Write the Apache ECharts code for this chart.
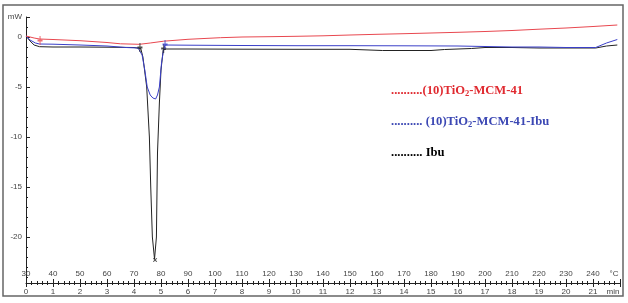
<!DOCTYPE html>
<html><head><meta charset="utf-8">
<script src="https://cdn.jsdelivr.net/npm/echarts@6/dist/echarts.min.js"></script>
<style>html,body{margin:0;padding:0;background:#fff}#c{width:628px;height:303px}</style>
</head><body><div id="c"></div>
<script>
// time (min) vs heat flow (mW)
var redData = [[0,0.1],[0.3,-0.1],[0.5,-0.2],[1,-0.25],[2,-0.37],[3,-0.55],[3.5,-0.68],[4.2,-0.73],[4.6,-0.6],[5.1,-0.42],[6,-0.23],[7.2,-0.07],[8,0.0],[9,0.03],[10,0.07],[11,0.12],[12,0.2],[13,0.27],[14,0.33],[15,0.4],[16,0.47],[17,0.55],[18,0.65],[19,0.78],[20,0.9],[21,1.05],[21.9,1.2]];
var blueData = [[0,0.1],[0.15,-0.3],[0.35,-0.6],[0.5,-0.7],[1,-0.72],[2,-0.8],[3,-0.9],[3.7,-1.05],[4.15,-1.1],[4.3,-1.8],[4.4,-3.3],[4.49,-5.0],[4.6,-5.8],[4.7,-6.1],[4.8,-6.2],[4.87,-5.8],[4.94,-5.0],[5.02,-2.6],[5.1,-1.2],[5.15,-0.8],[6,-0.82],[8,-0.85],[10,-0.87],[12,-0.87],[14,-0.88],[16,-0.9],[17,-0.95],[18,-1.0],[19,-1.0],[20,-1.05],[21.1,-1.05],[21.5,-0.6],[21.9,-0.25]];
var blackData = [[0,0.1],[0.15,-0.4],[0.3,-0.8],[0.5,-0.97],[1,-1.0],[2,-1.0],[3,-1.02],[4,-1.05],[4.25,-1.15],[4.33,-2.0],[4.47,-5.0],[4.57,-10.0],[4.62,-15.0],[4.68,-20.0],[4.76,-22.2],[4.8,-22.2],[4.83,-20.0],[4.87,-11.6],[4.94,-6.6],[5.0,-3.3],[5.08,-1.3],[5.2,-1.2],[6,-1.2],[8,-1.22],[10,-1.23],[12,-1.23],[13.2,-1.35],[15,-1.35],[15.5,-1.25],[16.5,-1.15],[17,-1.05],[18,-1.05],[19,-1.1],[20,-1.1],[21.1,-1.1],[21.5,-0.9],[21.9,-0.8]];
var blackMarks = [[4.22,-1.05],[5.1,-1.15]];
var peakMark = [[4.78,-22.3]];
var redMarks = [[0.52,-0.35]];
var blueMarks = [[5.15,-0.75]];
var yLabelValues = [2,0,-5,-10,-15,-20];
var yMinorValues = [1,-1,-2,-3,-4,-6,-7,-8,-9,-11,-12,-13,-14,-16,-17,-18,-19,-21,-22,-23,-24];
var tempStart = 30, tempStep = 10;
var legendTexts = ['..........(10)TiO{s|2}-MCM-41', '.......... (10)TiO{s|2}-MCM-41-Ibu', '.......... Ibu'];

var chart = echarts.init(document.getElementById('c'), null, {renderer:'canvas'});
var plus = 'path://M4,0 L6,0 L6,4 L10,4 L10,6 L6,6 L6,10 L4,10 L4,6 L0,6 L0,4 L4,4 Z';
var lblFont = {fontFamily:'Liberation Sans', fontSize:8, color:'#444'};
function legendText(i, color, top){
  return {type:'text', left:391, top:top, style:{text:legendTexts[i], fill:color,
    font:'bold 12.6px "Liberation Serif"',
    rich:{s:{fontFamily:'Liberation Serif', fontWeight:'bold', fontSize:8.5, fill:color, verticalAlign:'bottom', padding:[6,0,0,0]}}}};
}
chart.setOption({
  animation:false,
  grid:[{left:26, right:8, top:17, bottom:20},{left:26, right:8, top:17, bottom:20}],
  xAxis:[{
    gridIndex:0, type:'value', min:0, max:22, interval:1, position:'bottom',
    axisLine:{show:true, onZero:false, lineStyle:{color:'#222', width:1}},
    axisTick:{show:true, inside:true, length:4, lineStyle:{color:'#222'}},
    minorTick:{show:true, splitNumber:5, length:2, lineStyle:{color:'#222'}},
    splitLine:{show:false},
    axisLabel:Object.assign({inside:true, margin:5, showMaxLabel:true,
      formatter:function(v){ return v===22 ? '{u|°C}' : String(tempStart + tempStep*v); },
      rich:{u:{fontFamily:'Liberation Sans', fontSize:8, color:'#444', padding:[0,12,0,0]}}}, lblFont)
  },{
    gridIndex:1, type:'value', min:0, max:22, interval:1, position:'bottom',
    axisLine:{show:false, onZero:false},
    axisTick:{show:true, inside:false, length:4, lineStyle:{color:'#222'}},
    minorTick:{show:true, splitNumber:5, length:2, lineStyle:{color:'#222'}},
    splitLine:{show:false},
    axisLabel:Object.assign({margin:5, showMaxLabel:true,
      formatter:function(v){ return v===22 ? '{u|min}' : String(v); },
      rich:{u:{fontFamily:'Liberation Sans', fontSize:8, color:'#444', padding:[0,14,0,0]}}}, lblFont)
  }],
  yAxis:[{
    gridIndex:0, type:'value', min:-24.6, max:2, position:'left',
    axisLine:{show:true, onZero:false, lineStyle:{color:'#222', width:1}},
    axisTick:{show:true, inside:true, length:4, customValues:yLabelValues, lineStyle:{color:'#222'}},
    splitLine:{show:false},
    axisLabel:Object.assign({margin:4, customValues:yLabelValues,
      formatter:function(v){ return v===2 ? 'mW' : String(v); }}, lblFont)
  },{
    gridIndex:1, type:'value', min:-24.6, max:2, position:'left',
    axisLine:{show:false, onZero:false},
    axisTick:{show:true, inside:true, length:2, customValues:yMinorValues, lineStyle:{color:'#222'}},
    splitLine:{show:false},
    axisLabel:{show:false, customValues:yMinorValues}
  }],
  series:[
    {type:'line', data:blackData, showSymbol:false, symbol:'none', lineStyle:{color:'#222', width:1}, z:2},
    {type:'line', data:blueData, showSymbol:false, symbol:'none', lineStyle:{color:'#3a3fc8', width:1}, z:3},
    {type:'line', data:redData, showSymbol:false, symbol:'none', lineStyle:{color:'#e8474f', width:1}, z:4},
    {type:'scatter', data:blackMarks, symbol:plus, symbolSize:[5,9], itemStyle:{color:'#222'}, z:5},
    {type:'scatter', data:peakMark, symbol:plus, symbolSize:5, symbolRotate:45, itemStyle:{color:'#222'}, z:5},
    {type:'scatter', data:redMarks, symbol:plus, symbolSize:[5,9], itemStyle:{color:'#e8474f'}, z:5},
    {type:'scatter', data:blueMarks, symbol:plus, symbolSize:[5,9], itemStyle:{color:'#3a3fc8'}, z:5}
  ],
  graphic:[
    {type:'rect', shape:{x:3, y:5, width:620, height:291}, style:{fill:'none', stroke:'#666', lineWidth:1.5}, silent:true},
    legendText(0, '#e02a30', 84),
    legendText(1, '#3c48b4', 115),
    legendText(2, '#000', 146)
  ]
});
</script></body></html>
